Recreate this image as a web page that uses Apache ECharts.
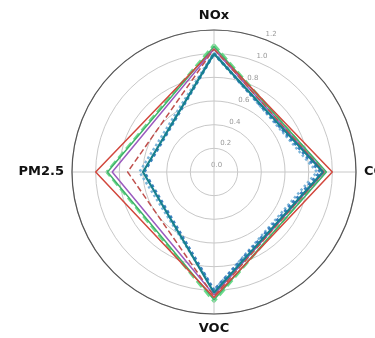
<!DOCTYPE html>
<html>
<head>
<meta charset="utf-8">
<script src="https://cdn.jsdelivr.net/npm/echarts@6/dist/echarts.min.js"></script>
<style>
html,body{margin:0;padding:0;background:#fff;}
#chart{width:375px;height:338px;}
</style>
</head>
<body>
<div id="chart"></div>
<script>
// Categories (angular axes)
const categories = ['NOx', 'CO', 'VOC', 'PM2.5'];
// Radial tick labels
const radiusTicks = ['0.0', '0.2', '0.4', '0.6', '0.8', '1.0', '1.2'];
// Series values, in order NOx, CO, VOC, PM2.5
const redSolid    = [1.04, 1.00, 1.06, 1.00];
const greenDashed = [1.08, 0.94, 1.10, 0.91];
const greenSolid  = [1.06, 0.95, 1.08, 0.90];
const purpleSolid = [1.04, 0.93, 1.04, 0.86];
const redDashed   = [1.04, 0.93, 1.05, 0.73];
const lightDotted = [1.01, 0.87, 1.00, 0.63];
const steelDotted = [1.00, 0.90, 1.00, 0.59];
const tealSolid   = [1.00, 0.92, 1.02, 0.60];

const step = 360 / categories.length;
function closed(vals) {
  const d = vals.map((v, i) => [v, i * step]);
  d.push([vals[0], 360]);
  return d;
}
function line(name, vals, color, type, width, z) {
  return {
    name: name, type: 'line', coordinateSystem: 'polar', polarIndex: 0,
    data: closed(vals), showSymbol: false, symbol: 'none', smooth: false,
    lineStyle: { color: color, type: type, width: width }, z: z
  };
}

const chart = echarts.init(document.getElementById('chart'), null, { renderer: 'canvas' });
chart.setOption({
  animation: false,
  backgroundColor: '#fff',
  polar: [
    { center: [214, 172], radius: 142 },
    { center: [214, 172], radius: [7, 149] }
  ],
  angleAxis: [
    {
      polarIndex: 0, type: 'value', min: 0, max: 360, interval: step,
      startAngle: 90, clockwise: true,
      axisLine: { show: true, lineStyle: { color: '#555', width: 1.2 } },
      axisTick: { show: false },
      splitLine: { show: true, lineStyle: { color: '#c8c8c8', width: 1 } },
      axisLabel: {
        show: true, margin: 8, fontSize: 13, fontWeight: 'bold',
        color: '#111', fontFamily: 'DejaVu Sans',
        formatter: function (v) {
          const i = Math.round(v / step);
          return i < categories.length ? categories[i] : '';
        }
      },
      z: 3
    },
    {
      polarIndex: 1, type: 'value', min: 0, max: 360, startAngle: 67.5,
      axisLine: { show: false }, axisTick: { show: false },
      axisLabel: { show: false }, splitLine: { show: false }
    }
  ],
  radiusAxis: [
    {
      polarIndex: 0, type: 'value', min: 0, max: 1.2, interval: 0.2,
      axisLine: { show: false }, axisTick: { show: false },
      axisLabel: { show: false },
      splitLine: { show: true, lineStyle: { color: '#c8c8c8', width: 1 } }
    },
    {
      polarIndex: 1, type: 'value', min: 0, max: 1.2, interval: 0.2,
      axisLine: { show: false }, axisTick: { show: false },
      splitLine: { show: false },
      axisLabel: {
        show: true, margin: 0, fontSize: 7, color: '#999',
        fontFamily: 'DejaVu Sans', align: 'center', verticalAlign: 'middle',
        formatter: function (v) { return radiusTicks[Math.round(v / 0.2)]; }
      }
    }
  ],
  series: [
    line('greenDashed', greenDashed, '#6ddc8c', 'dashed', 2, 2),
    line('greenSolid', greenSolid, '#3fb26a', 'solid', 1.5, 3),
    line('redSolid', redSolid, '#d2473d', 'solid', 1.5, 4),
    line('purpleSolid', purpleSolid, '#9b5bbf', 'solid', 1.5, 4),
    line('redDashed', redDashed, '#c0504d', 'dashed', 1.5, 4),
    line('lightDotted', lightDotted, '#7ab4d8', 'dotted', 2.5, 5),
    line('steelDotted', steelDotted, '#3b7fc0', 'dotted', 3, 5),
    line('tealSolid', tealSolid, '#17808e', 'solid', 2.2, 6)
  ]
});
</script>
</body>
</html>
